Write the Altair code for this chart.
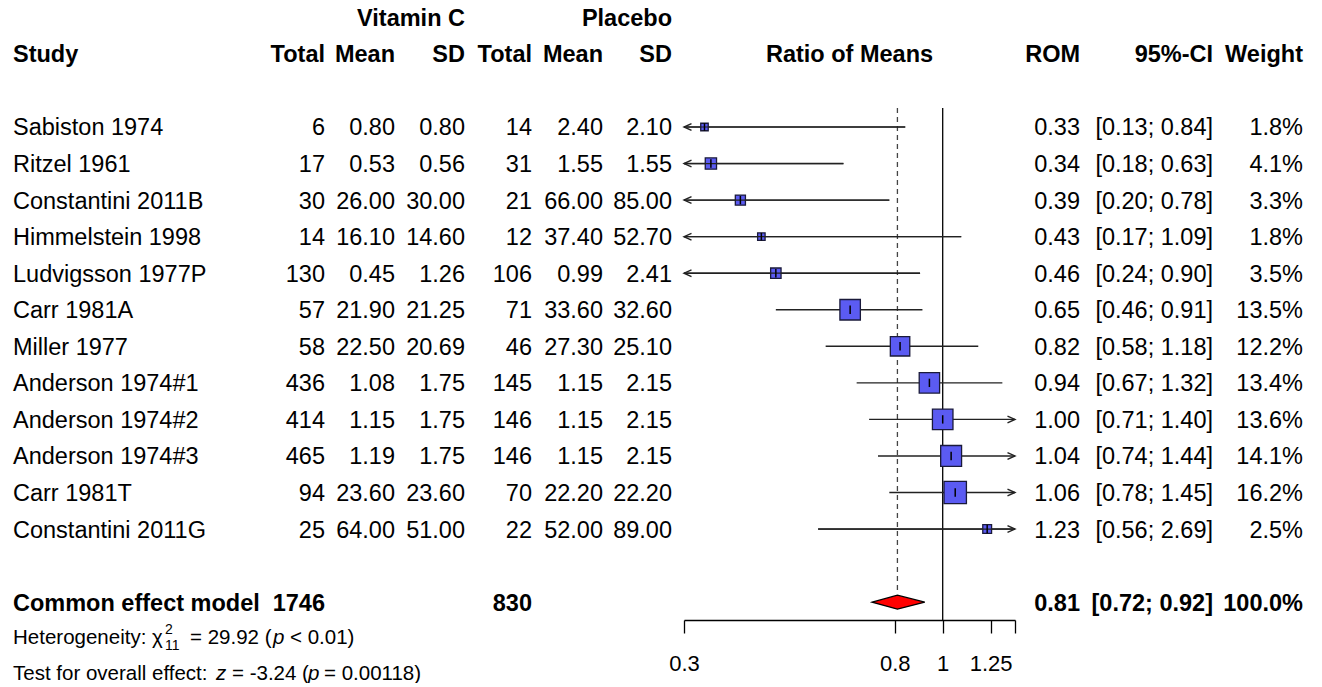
import altair as alt
import pandas as pd

# ---------------- data ----------------
studies = ["Sabiston 1974", "Ritzel 1961", "Constantini 2011B", "Himmelstein 1998",
           "Ludvigsson 1977P", "Carr 1981A", "Miller 1977", "Anderson 1974#1",
           "Anderson 1974#2", "Anderson 1974#3", "Carr 1981T", "Constantini 2011G"]
total_e = [6, 17, 30, 14, 130, 57, 58, 436, 414, 465, 94, 25]
mean_e = [0.80, 0.53, 26.00, 16.10, 0.45, 21.90, 22.50, 1.08, 1.15, 1.19, 23.60, 64.00]
sd_e = [0.80, 0.56, 30.00, 14.60, 1.26, 21.25, 20.69, 1.75, 1.75, 1.75, 23.60, 51.00]
total_c = [14, 31, 21, 12, 106, 71, 46, 145, 146, 146, 70, 22]
mean_c = [2.40, 1.55, 66.00, 37.40, 0.99, 33.60, 27.30, 1.15, 1.15, 1.15, 22.20, 52.00]
sd_c = [2.10, 1.55, 85.00, 52.70, 2.41, 32.60, 25.10, 2.15, 2.15, 2.15, 22.20, 89.00]
rom = [0.33, 0.34, 0.39, 0.43, 0.46, 0.65, 0.82, 0.94, 1.00, 1.04, 1.06, 1.23]
ci_lower = [0.13, 0.18, 0.20, 0.17, 0.24, 0.46, 0.58, 0.67, 0.71, 0.74, 0.78, 0.56]
ci_upper = [0.84, 0.63, 0.78, 1.09, 0.90, 0.91, 1.18, 1.32, 1.40, 1.44, 1.45, 2.69]
weight = [1.8, 4.1, 3.3, 1.8, 3.5, 13.5, 12.2, 13.4, 13.6, 14.1, 16.2, 2.5]

group_labels = ["Vitamin C", "Placebo"]
header_labels = ["Study", "Total", "Mean", "SD", "Total", "Mean", "SD",
                 "Ratio of Means", "ROM", "95%-CI", "Weight"]

pooled_label = "Common effect model"
pooled_total_e = 1746
pooled_total_c = 830
pooled_rom = 0.81
pooled_lower = 0.72
pooled_upper = 0.92
pooled_weight = 100.0

het_q = "29.92"
het_df = "11"
het_p = "< 0.01"
test_z = "-3.24"
test_p = "= 0.00118"

axis_ticks = [0.3, 0.8, 1, 1.25, 1.4]
x_limits = [0.3, 1.4]
null_value = 1.0

# ---------------- styling / layout ----------------
FONT = "Liberation Sans"
FS = 23.5
FS_STAT = 20.5
SQ_FILL = "#5B5BF2"
SQ_STROKE = "#1a1a3a"
LINE_C = "#222222"
ROW0 = 119.0      # chart-y of first study row
ROWH = 36.55      # row spacing in px


def P(px):
    """page x -> chart x"""
    return px - 8


def ry(r):
    return ROW0 + r * ROWH


df = pd.DataFrame({
    "study": studies, "total_e": total_e, "mean_e": mean_e, "sd_e": sd_e,
    "total_c": total_c, "mean_c": mean_c, "sd_c": sd_c, "rom": rom,
    "lower": ci_lower, "upper": ci_upper, "weight": weight,
})
df["row"] = range(len(df))
df["lo_c"] = df["lower"].clip(lower=x_limits[0])
df["hi_c"] = df["upper"].clip(upper=x_limits[1])
df["sz"] = df["weight"] * 31.0
df["tick_sz"] = df["sz"].clip(upper=70)
df["ci_txt"] = [f"[{l:.2f}; {u:.2f}]" for l, u in zip(ci_lower, ci_upper)]
df["w_txt"] = [f"{w:.1f}%" for w in weight]

xscale = alt.Scale(type="log", domain=x_limits, range=[P(684), P(1015)], nice=False)
yscale = alt.Scale(domain=[-3, 15], range=[ry(-3), ry(15)], nice=False, zero=False)

x_axis = alt.Axis(values=axis_ticks,
                  labelExpr="datum.value >= 1.399 ? '' : format(datum.value, '~g')",
                  domainColor="black", domainWidth=1.3, tickColor="black",
                  tickWidth=1.3, tickSize=13, labelFontSize=22, labelFont=FONT,
                  labelColor="black", labelPadding=30, labelBaseline="middle",
                  labelFlush=False, labelOverlap=False, grid=False)


def X(field):
    return alt.X(field, type="quantitative", scale=xscale, axis=x_axis, title="")


def Y(field):
    return alt.Y(field, type="quantitative", scale=yscale, axis=None)


base = alt.Chart(df)

ci_lines = base.mark_rule(color=LINE_C, strokeWidth=1.4).encode(
    x=X("lo_c"), x2="hi_c", y=Y("row"))

squares = base.mark_square(filled=True, fill=SQ_FILL, stroke=SQ_STROKE,
                           strokeWidth=1.3, opacity=1).encode(
    x=X("rom"), y=Y("row"), size=alt.Size("sz:Q", scale=None, legend=None))

cross_lines = base.transform_filter("datum.weight < 10").mark_rule(
    color=LINE_C, strokeWidth=1.2).encode(x=X("lo_c"), x2="hi_c", y=Y("row"))

ticks = base.mark_point(shape="M0,-1L0,1", filled=False, stroke="black",
                        strokeWidth=1.5, opacity=1).encode(
    x=X("rom"), y=Y("row"), size=alt.Size("tick_sz:Q", scale=None, legend=None))

left_arrows = base.transform_filter(f"datum.lower < {x_limits[0]}").mark_point(
    shape="M1,-0.45L0,0L1,0.45", filled=False, stroke=LINE_C, strokeWidth=1.4,
    size=225, opacity=1).encode(x=X("lo_c"), y=Y("row"))

right_arrows = base.transform_filter(f"datum.upper >= {x_limits[1]}").mark_point(
    shape="M-1,-0.45L0,0L-1,0.45", filled=False, stroke=LINE_C, strokeWidth=1.4,
    size=225, opacity=1).encode(x=X("hi_c"), y=Y("row"))

null_line = alt.Chart(pd.DataFrame({"v": [null_value]})).mark_rule(
    color="black", strokeWidth=1.3).encode(
    x=X("v"), y=alt.value(100), y2=alt.value(ry(13.5)))

pooled_line = alt.Chart(pd.DataFrame({"v": [pooled_rom]})).mark_rule(
    color="#444444", strokeWidth=1.3, strokeDash=[5, 4]).encode(
    x=X("v"), y=alt.value(100), y2=alt.value(582))

half = 7.0 / ROWH
diamond_df = pd.DataFrame({
    "x": [pooled_lower, pooled_rom, pooled_upper],
    "ya": [13, 13 - half, 13],
    "yb": [13, 13 + half, 13],
})
diamond = alt.Chart(diamond_df).mark_area(
    fill="#FF0000", stroke="black", strokeWidth=1.2, opacity=1).encode(
    x=X("x"), y=Y("ya"), y2="yb")


def col(field, x, align="right", fmt=None):
    t = alt.Text(field, type="nominal") if fmt is None else alt.Text(field, type="quantitative", format=fmt)
    return base.mark_text(align=align, baseline="alphabetic", font=FONT, fontSize=FS,
                          color="black", dy=0.36 * FS).encode(
        x=alt.value(x), y=Y("row"), text=t)


def txt(s, x, y, align="left", bold=False, size=FS, italic=False, dy=0.0):
    return alt.Chart(pd.DataFrame({"t": [s]})).mark_text(
        align=align, baseline="alphabetic", font=FONT, fontSize=size,
        fontWeight="bold" if bold else "normal",
        fontStyle="italic" if italic else "normal", color="black",
        dy=dy + 0.36 * size).encode(
        x=alt.value(x), y=alt.value(y), text="t:N")


columns = [
    col("study", P(13), "left"),
    col("total_e", P(325), fmt="d"),
    col("mean_e", P(395), fmt=".2f"),
    col("sd_e", P(465), fmt=".2f"),
    col("total_c", P(532), fmt="d"),
    col("mean_c", P(603), fmt=".2f"),
    col("sd_c", P(672), fmt=".2f"),
    col("rom", P(1080), fmt=".2f"),
    col("ci_txt", P(1213)),
    col("w_txt", P(1303)),
]

hx = [(P(13), "left"), (P(325), "right"), (P(395), "right"), (P(465), "right"),
      (P(532), "right"), (P(603), "right"), (P(672), "right"),
      (P(849.5), "center"), (P(1080), "right"), (P(1213), "right"), (P(1303), "right")]
headers = [txt(lab, x, ry(-2), align=a, bold=True) for lab, (x, a) in zip(header_labels, hx)]
headers += [txt(group_labels[0], P(465), ry(-3), align="right", bold=True),
            txt(group_labels[1], P(672), ry(-3), align="right", bold=True)]

pooled = [
    txt(pooled_label, P(13), ry(13), bold=True),
    txt(f"{pooled_total_e}", P(325), ry(13), align="right", bold=True),
    txt(f"{pooled_total_c}", P(532), ry(13), align="right", bold=True),
    txt(f"{pooled_rom:.2f}", P(1080), ry(13), align="right", bold=True),
    txt(f"[{pooled_lower:.2f}; {pooled_upper:.2f}]", P(1213), ry(13), align="right", bold=True),
    txt(f"{pooled_weight:.1f}%", P(1303), ry(13), align="right", bold=True),
]

hy = 629
ty = 664.5
stats = [
    txt("Heterogeneity: \u03c7", P(13), hy, size=FS_STAT),
    txt("2", P(165), hy, size=14, dy=-8),
    txt(het_df, P(165), hy, size=14, dy=8),
    txt(f"= {het_q} (", P(190), hy, size=FS_STAT),
    txt("p", P(273), hy, size=FS_STAT, italic=True),
    txt(het_p + ")", P(290), hy, size=FS_STAT),
    txt("Test for overall effect:", P(13), ty, size=FS_STAT),
    txt("z", P(216), ty, size=FS_STAT, italic=True),
    txt(f"= {test_z} (", P(232), ty, size=FS_STAT),
    txt("p", P(308), ty, size=FS_STAT, italic=True),
    txt(test_p + ")", P(324), ty, size=FS_STAT),
]

chart = alt.layer(
    null_line, pooled_line, ci_lines, left_arrows, right_arrows, squares,
    cross_lines, ticks, diamond, *columns, *headers, *pooled, *stats
).properties(
    width=1300, height=int(round(ry(13.5))),
    autosize=alt.AutoSizeParams(type="none"),
    padding={"left": 0, "top": 0, "right": 0, "bottom": 63},
    background="white",
).configure_view(strokeWidth=0, strokeOpacity=0)

chart.save("out.html", embed_options={"renderer": "svg", "actions": False})
